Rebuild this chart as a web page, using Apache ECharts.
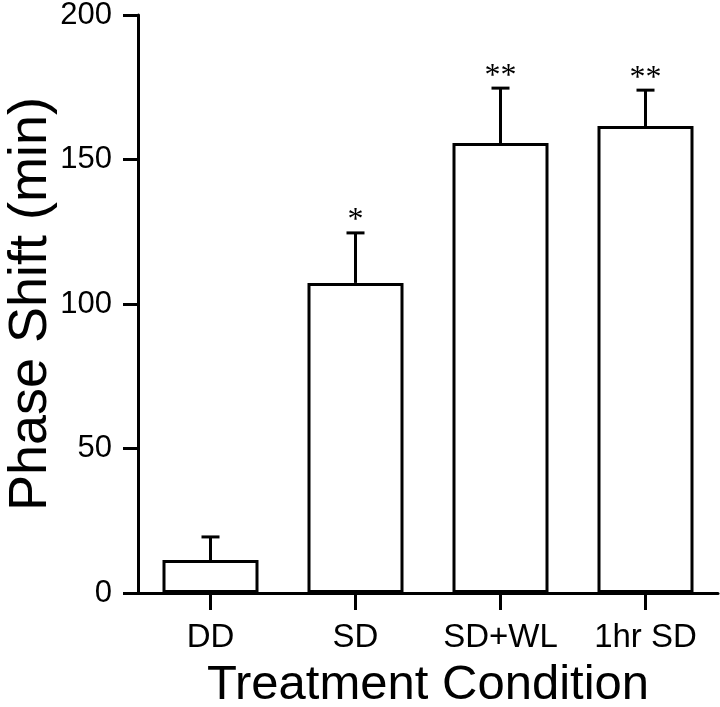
<!DOCTYPE html>
<html>
<head>
<meta charset="utf-8">
<script src="https://cdn.jsdelivr.net/npm/echarts@6/dist/echarts.min.js"></script>
<style>
html,body{margin:0;padding:0;background:#fff;}
#chart{width:720px;height:707px;}
</style>
</head>
<body>
<div id="chart"></div>
<script>
// Data
const categories = ['DD', 'SD', 'SD+WL', '1hr SD'];
const means = [11.4, 107.3, 155.7, 161.6];
const errUpper = [19.4, 124.6, 174.7, 174.0];
const stars = ['', '*', '**', '**'];
const yMin = 0, yMax = 200, yStep = 50;

const chart = echarts.init(document.getElementById('chart'), null, {renderer: 'canvas'});
const FONT = 'Liberation Sans, Arial, sans-serif';

const errData = categories.map((c, i) => [i, means[i], errUpper[i]]);

const option = {
  animation: false,
  backgroundColor: '#fff',
  grid: {left: 138, right: 2, top: 15, bottom: 114, containLabel: false, outerBoundsMode: 'none'},
  xAxis: {
    type: 'category',
    data: categories,
    name: 'Treatment Condition',
    nameLocation: 'middle',
    nameGap: 68,
    nameMoveOverlap: false,
    nameTextStyle: {fontFamily: FONT, fontSize: 49, color: '#000'},
    axisLine: {lineStyle: {color: '#000', width: 3}},
    axisTick: {show: true, alignWithLabel: true, length: 17, lineStyle: {color: '#000', width: 3}},
    axisLabel: {fontFamily: FONT, fontSize: 33, color: '#000', margin: 28, interval: 0}
  },
  yAxis: {
    type: 'value',
    min: yMin, max: yMax, interval: yStep,
    name: 'Phase Shift (min)',
    nameLocation: 'middle',
    nameRotate: 90,
    nameGap: 80,
    nameMoveOverlap: false,
    nameTextStyle: {fontFamily: FONT, fontSize: 54, color: '#000'},
    axisLine: {show: true, lineStyle: {color: '#000', width: 3}},
    axisTick: {show: true, length: 15, lineStyle: {color: '#000', width: 3}},
    axisLabel: {fontFamily: FONT, fontSize: 31, color: '#000', margin: 26},
    splitLine: {show: false}
  },
  series: [
    {
      type: 'bar',
      data: means,
      barWidth: 96,
      itemStyle: {color: '#fff', borderColor: '#000', borderWidth: 3},
      z: 2
    },
    {
      type: 'custom',
      data: errData,
      z: 3,
      renderItem: function (params, api) {
        const idx = api.value(0);
        const base = api.coord([idx, api.value(1)]);
        const top = api.coord([idx, api.value(2)]);
        const label = stars[params.dataIndex];
        const half = 9;
        const children = [
          {type: 'line', shape: {x1: base[0], y1: base[1], x2: top[0], y2: top[1]},
           style: {stroke: '#000', lineWidth: 3}},
          {type: 'line', shape: {x1: top[0] - half, y1: top[1], x2: top[0] + half, y2: top[1]},
           style: {stroke: '#000', lineWidth: 3}}
        ];
        if (label) {
          children.push({type: 'text', x: top[0], y: top[1] - 12,
            style: {text: label, fontFamily: 'Liberation Serif, Times New Roman, serif', fontSize: 32,
                    fill: '#000', align: 'center', verticalAlign: 'middle'}});
        }
        return {type: 'group', children: children};
      }
    }
  ]
};
chart.setOption(option);
</script>
</body>
</html>
